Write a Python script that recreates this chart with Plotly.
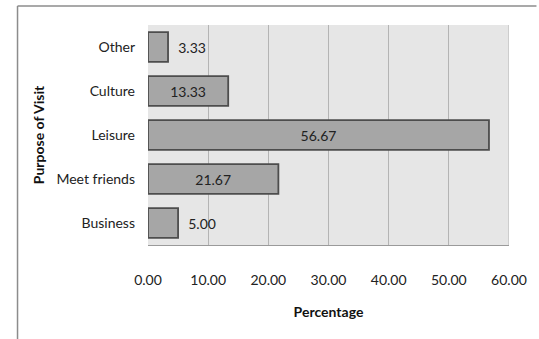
import plotly.graph_objects as go

# Purpose of visit (bottom to top) and share of respondents in percent
purposes = ["Business", "Meet friends", "Leisure", "Culture", "Other"]
percentages = [5.00, 21.67, 56.67, 13.33, 3.33]
x_ticks = [0, 10, 20, 30, 40, 50, 60]
x_tick_labels = ["0.00", "10.00", "20.00", "30.00", "40.00", "50.00", "60.00"]

FONT = "Lato, Liberation Sans, sans-serif"
SIZE = 14

positions = ["inside" if v > 10 else "outside" for v in percentages]
labels = [f"{v:.2f}" if p == "inside" else f"  {v:.2f}"
          for v, p in zip(percentages, positions)]

fig = go.Figure(
    go.Bar(
        x=percentages,
        y=purposes,
        orientation="h",
        marker=dict(color="#a6a6a6", line=dict(color="#4d4d4d", width=1.8)),
        text=labels,
        textposition=positions,
        insidetextanchor="middle",
        textfont=dict(family=FONT, size=SIZE, color="#222222"),
        cliponaxis=False,
    )
)

W, H = 539, 339
L, R, T, B = 148, 23, 25, 94
pw, ph = W - L - R, H - T - B

def px_x(x):
    return (x - L) / pw

def px_y(y):
    return (H - B - y) / ph

frame = dict(color="#8c8c8c", width=1.5)
shapes = [
    dict(type="line", xref="paper", yref="paper",
         x0=px_x(15), x1=px_x(W + 5), y0=px_y(6), y1=px_y(6), line=frame),
    dict(type="line", xref="paper", yref="paper",
         x0=px_x(15), x1=px_x(15), y0=px_y(6), y1=px_y(H + 5), line=frame),
]

fig.update_layout(
    width=W,
    height=H,
    margin=dict(l=L, r=R, t=T, b=B),
    paper_bgcolor="white",
    plot_bgcolor="#e6e6e6",
    bargap=0.32,
    showlegend=False,
    shapes=shapes,
    font=dict(family=FONT, size=SIZE, color="#222222"),
    xaxis=dict(
        range=[0, 60],
        tickvals=x_ticks,
        ticktext=x_tick_labels,
        showgrid=True,
        gridcolor="#b4b4b4",
        gridwidth=1,
        zeroline=False,
        showline=True,
        linecolor="#9a9a9a",
        mirror=False,
        ticks="",
        ticklabelstandoff=22,
        tickfont=dict(family=FONT, size=SIZE, color="#222222"),
        title=dict(text="<b>Percentage</b>", standoff=20,
                   font=dict(family=FONT, size=SIZE, color="#111111")),
    ),
    yaxis=dict(
        categoryorder="array",
        categoryarray=purposes,
        showgrid=False,
        zeroline=False,
        showline=False,
        ticks="",
        ticklabelstandoff=12,
        tickfont=dict(family=FONT, size=SIZE, color="#222222"),
        title=dict(text="<b>Purpose of Visit</b>", standoff=8,
                   font=dict(family=FONT, size=SIZE, color="#111111")),
    ),
)

# right edge of the plotting area
fig.add_shape(type="line", xref="x", yref="paper", x0=60, x1=60, y0=0, y1=1,
              line=dict(color="#b4b4b4", width=1))

fig.write_html("out.html")
